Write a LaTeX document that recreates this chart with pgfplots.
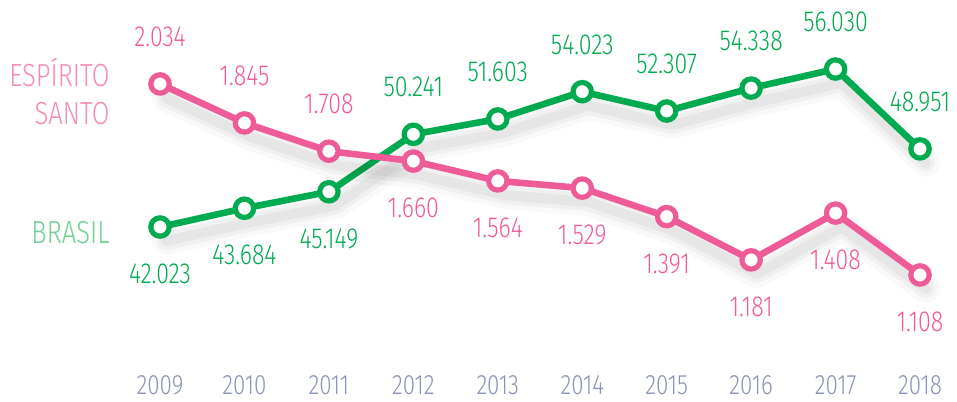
\documentclass[border=0pt]{standalone}
\usepackage{pgfplots}
\pgfplotsset{compat=1.18}
\usepackage{fontspec}
\setmainfont{Fira Sans Light}[FakeStretch=0.8]
\definecolor{es}{HTML}{EF5B98}
\definecolor{esl}{HTML}{F48BB5}
\definecolor{br}{HTML}{00AA4F}
\definecolor{brl}{HTML}{72CF94}
\definecolor{yr}{HTML}{8A94B8}

\pgfplotstableread{
x y pos
2009 42.023 -1
2010 43.684 -1
2011 45.149 -1
2012 50.241 1
2013 51.603 1
2014 54.023 1
2015 52.307 1
2016 54.338 1
2017 56.030 1
2018 48.951 1
}\brasil

\pgfplotstableread{
x y pos
2009 2.034 1
2010 1.845 1
2011 1.708 1
2012 1.660 -1
2013 1.564 -1
2014 1.529 -1
2015 1.391 -1
2016 1.181 -1
2017 1.408 -1
2018 1.108 -1
}\es

\pgfplotsset{
  base/.style={width=478.5pt,height=200.5pt,scale only axis,
    xmin=2007.105,xmax=2018.438,axis line style={draw=none},
    ytick=\empty,xtick=\empty,clip=false},
  shadow/.style={no marks,draw=black,line join=round,line cap=round,
    transform canvas={shift={(3pt,-7pt)}}},
  serie/.style={line width=3.3pt,color=#1,mark=*,mark size=4.6pt,
    mark options={fill=white,draw=#1,line width=2.6pt},
    visualization depends on={\thisrow{pos}\as\pos},
    point meta=explicit symbolic,
    nodes near coords,
    nodes near coords align={center},
    every node near coord/.append style={font=\fontsize{14.5}{14.5}\selectfont,
      text=#1,anchor=center,yshift=\pos*23.5pt}},
}

\begin{document}
\begin{tikzpicture}
\useasboundingbox (0,0) rectangle (478.5pt,200.5pt);
% Brasil
\begin{axis}[base,ymin=26.60,ymax=62.15,
  xtick={2009,2010,...,2018},major tick length=0pt,
  /pgf/number format/1000 sep={},
  /pgf/number format/assume math mode=true,
  xticklabel style={font=\fontsize{14}{14}\selectfont,text=yr,anchor=center,yshift=8pt}]
\addplot[shadow,line width=14pt,opacity=0.025] table[x=x,y=y]{\brasil};
\addplot[shadow,line width=9pt,opacity=0.035] table[x=x,y=y]{\brasil};
\addplot[shadow,line width=5pt,opacity=0.045] table[x=x,y=y]{\brasil};
\addplot[serie=br] table[x=x,y=y,meta=y]{\brasil};
\node[anchor=east,inner sep=0pt,text=brl,font=\fontsize{16}{16}\selectfont] at (rel axis cs:0.1149,0.421) {BRASIL};
\end{axis}
% Espirito Santo
\begin{axis}[base,ymin=0.497,ymax=2.441]
\addplot[shadow,line width=14pt,opacity=0.025] table[x=x,y=y]{\es};
\addplot[shadow,line width=9pt,opacity=0.035] table[x=x,y=y]{\es};
\addplot[shadow,line width=5pt,opacity=0.045] table[x=x,y=y]{\es};
\addplot[serie=es] table[x=x,y=y,meta=y]{\es};
\node[anchor=east,align=right,inner sep=0pt,text=esl,font=\fontsize{16}{19}\selectfont] at (rel axis cs:0.1149,0.773) {ESPÍRITO\\SANTO};
\end{axis}
\end{tikzpicture}
\end{document}
